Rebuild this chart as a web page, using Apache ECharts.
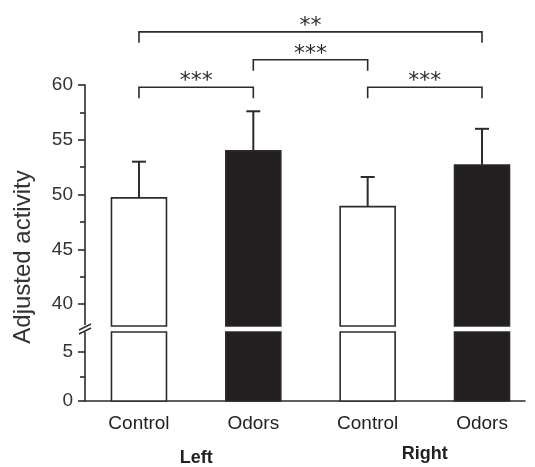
<!DOCTYPE html>
<html>
<head>
<meta charset="utf-8">
<script src="https://cdn.jsdelivr.net/npm/echarts@6/dist/echarts.min.js"></script>
<style>
html,body{margin:0;padding:0;background:#fff;}
#chart{width:535px;height:467px;}
</style>
</head>
<body>
<div id="chart"></div>
<script>
// ---- data ----
var categories = ['Control', 'Odors', 'Control', 'Odors'];
var groups = ['Left', 'Right'];
var means = [49.7, 54.0, 48.9, 52.7];
var errors = [3.3, 3.6, 2.7, 3.3];
var upperTicks = [40, 45, 50, 55, 60];
var upperMinor = [42.5, 47.5, 52.5, 57.5];
var lowerTicks = [0, 5];
var lowerMinor = [2.5];
var bracketFrom = [1, 2, 3, 1];
var bracketTo = [2, 3, 4, 4];
var bracketLevel = [59.8, 62.3, 59.8, 64.85];
var bracketLabel = ['***', '***', '***', '**'];

// ---- layout / style ----
var UP_MIN = 38, UP_MAX = 60, LO_MIN = 0, LO_MAX = 7;
var X_MIN = 0.528, X_MAX = 4.376;
var INK = '#2b2b2b';
var FILLS = ['#ffffff', '#231f20', '#ffffff', '#231f20'];
var BAR_W = 55, CAP_W = 14;
var FONT = 'Liberation Sans, Arial, Helvetica, sans-serif';

var chart = echarts.init(document.getElementById('chart'), null, {renderer: 'canvas'});

var barData = means.map(function (m, i) { return [i + 1, m, errors[i], i]; });
var bracketData = bracketFrom.map(function (f, i) { return [f, bracketTo[i], bracketLevel[i], i]; });

function upperBars(params, api) {
  var x = api.value(0), v = api.value(1), e = api.value(2), idx = api.value(3);
  var top = api.coord([x, v]);
  var bot = api.coord([x, UP_MIN]);
  var cap = api.coord([x, v + e]);
  return {
    type: 'group',
    children: [
      {type: 'line', shape: {x1: top[0], y1: top[1], x2: cap[0], y2: cap[1]}, style: {stroke: INK, lineWidth: 2}},
      {type: 'line', shape: {x1: cap[0] - CAP_W / 2, y1: cap[1], x2: cap[0] + CAP_W / 2, y2: cap[1]}, style: {stroke: INK, lineWidth: 2}},
      {type: 'rect', shape: {x: top[0] - BAR_W / 2, y: top[1], width: BAR_W, height: bot[1] - top[1]},
        style: {fill: FILLS[idx], stroke: INK, lineWidth: 1.6}}
    ]
  };
}
function lowerBars(params, api) {
  var x = api.value(0), v = Math.min(api.value(1), LO_MAX), idx = api.value(3);
  var top = api.coord([x, v]);
  var bot = api.coord([x, LO_MIN]);
  return {
    type: 'rect', shape: {x: top[0] - BAR_W / 2, y: top[1], width: BAR_W, height: bot[1] - top[1]},
    style: {fill: FILLS[idx], stroke: INK, lineWidth: 1.6}
  };
}
function brackets(params, api) {
  var a = api.value(0), b = api.value(1), lv = api.value(2), idx = api.value(3);
  var p1 = api.coord([a, lv - 1]), p2 = api.coord([a, lv]), p3 = api.coord([b, lv]), p4 = api.coord([b, lv - 1]);
  var mid = api.coord([(a + b) / 2, lv]);
  return {
    type: 'group',
    children: [
      {type: 'polyline', shape: {points: [p1, p2, p3, p4]}, style: {stroke: INK, lineWidth: 1.6, fill: null}},
      {type: 'text', x: mid[0], y: mid[1] + 5,
        style: {text: bracketLabel[idx], fill: INK, font: '22px DejaVu Sans', align: 'center', verticalAlign: 'bottom'}}
    ]
  };
}

var axisLineStyle = {show: true, lineStyle: {color: INK, width: 1.6}};

chart.setOption({
  animation: false,
  backgroundColor: '#fff',
  grid: [
    {left: 85, right: 10, top: 85, height: 241},
    {left: 85, right: 10, top: 332, height: 74}
  ],
  xAxis: [
    {gridIndex: 0, type: 'value', min: X_MIN, max: X_MAX, show: false},
    {gridIndex: 1, type: 'value', min: X_MIN, max: X_MAX, position: 'bottom',
      axisLine: axisLineStyle, axisTick: {show: false}, splitLine: {show: false},
      axisLabel: {customValues: [1, 2, 3, 4], margin: 13, color: '#222', fontSize: 19, fontFamily: FONT,
        formatter: function (v) { return categories[Math.round(v) - 1]; }}},
    {gridIndex: 1, type: 'value', min: X_MIN, max: X_MAX, position: 'bottom',
      axisLine: {show: false}, axisTick: {show: false}, splitLine: {show: false},
      axisLabel: {customValues: [1.5, 3.5], margin: 44, color: '#222', fontSize: 18, fontWeight: 'bold', fontFamily: FONT,
        formatter: function (v) { return v < 2.5 ? '{l|' + groups[0] + '}' : '{r|' + groups[1] + '}'; },
        rich: {
          l: {fontSize: 18, fontWeight: 'bold', fontFamily: FONT, color: '#222', padding: [4, 0, 0, 0]},
          r: {fontSize: 18, fontWeight: 'bold', fontFamily: FONT, color: '#222'}
        }}}
  ],
  yAxis: [
    {gridIndex: 0, type: 'value', position: 'left', min: UP_MIN, max: UP_MAX, axisLine: axisLineStyle, splitLine: {show: false},
      axisTick: {customValues: upperTicks, length: 7, lineStyle: {color: INK, width: 1.6}},
      axisLabel: {customValues: upperTicks, margin: 12, color: '#333', fontSize: 19, fontFamily: FONT}},
    {gridIndex: 0, type: 'value', position: 'left', min: UP_MIN, max: UP_MAX, axisLine: {show: false}, splitLine: {show: false},
      axisTick: {customValues: upperMinor, length: 5, lineStyle: {color: INK, width: 1.6}},
      axisLabel: {show: false}},
    {gridIndex: 1, type: 'value', position: 'left', min: LO_MIN, max: LO_MAX, axisLine: axisLineStyle, splitLine: {show: false},
      axisTick: {customValues: lowerTicks, length: 7, lineStyle: {color: INK, width: 1.6}},
      axisLabel: {customValues: lowerTicks, margin: 12, color: '#333', fontSize: 19, fontFamily: FONT}},
    {gridIndex: 1, type: 'value', position: 'left', min: LO_MIN, max: LO_MAX, axisLine: {show: false}, splitLine: {show: false},
      axisTick: {customValues: lowerMinor, length: 5, lineStyle: {color: INK, width: 1.6}},
      axisLabel: {show: false}}
  ],
  graphic: [
    {type: 'text', x: 23, y: 257, rotation: Math.PI / 2, z: 10,
      style: {text: 'Adjusted activity', fill: '#333', font: '24px ' + FONT, align: 'center', verticalAlign: 'middle'}},
    {type: 'rect', shape: {x: 82, y: 325, width: 6, height: 7}, style: {fill: '#fff'}, z: 20},
    {type: 'line', shape: {x1: 79, y1: 330, x2: 91, y2: 324}, style: {stroke: INK, lineWidth: 1.5}, z: 21},
    {type: 'line', shape: {x1: 79, y1: 334, x2: 91, y2: 328}, style: {stroke: INK, lineWidth: 1.5}, z: 21}
  ],
  series: [
    {type: 'custom', xAxisIndex: 0, yAxisIndex: 0, data: barData, renderItem: upperBars, clip: false},
    {type: 'custom', xAxisIndex: 1, yAxisIndex: 2, data: barData, renderItem: lowerBars, clip: false},
    {type: 'custom', xAxisIndex: 0, yAxisIndex: 0, data: bracketData, renderItem: brackets, clip: false}
  ]
});
</script>
</body>
</html>
